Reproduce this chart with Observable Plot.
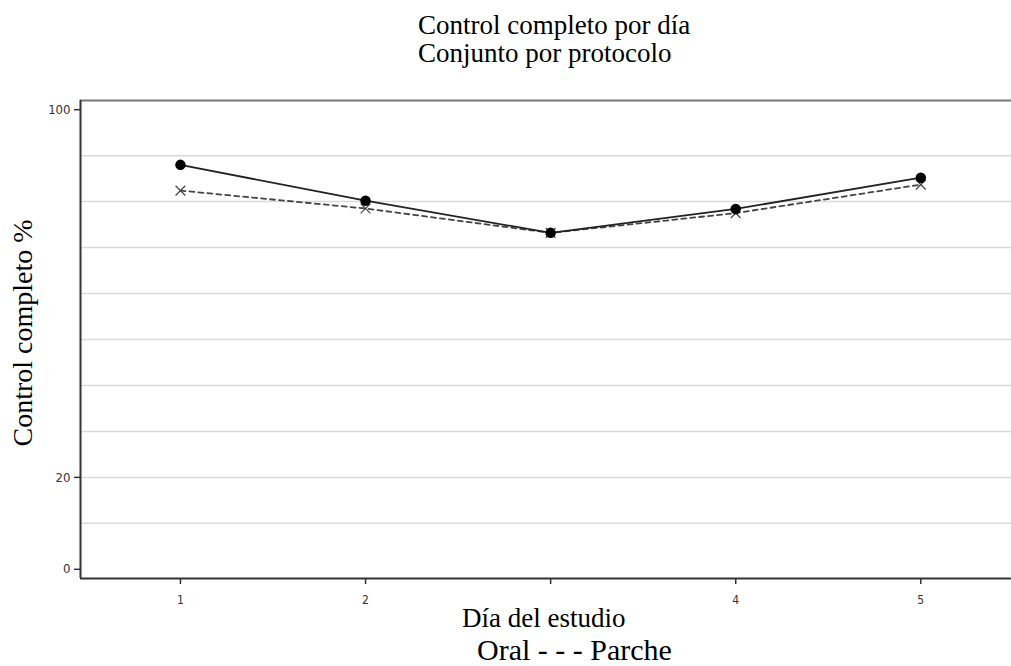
<!DOCTYPE html>
<html>
<head>
<meta charset="utf-8">
<script src="https://cdn.jsdelivr.net/npm/d3@7"></script>
<script src="https://cdn.jsdelivr.net/npm/@observablehq/plot@0.6"></script>
<style>
  html, body { margin: 0; padding: 0; background: #fff; }
  #wrap { position: relative; width: 1011px; height: 666px; overflow: hidden; font-family: "Liberation Serif", "Times New Roman", serif; color: #000; }
  .t { position: absolute; white-space: nowrap; line-height: 1; }
  #chart { position: absolute; left: 0; top: 90px; }
</style>
</head>
<body>
<div id="wrap">
  <div id="chart"></div>
  <div class="t" id="title1" style="left:418px;top:12px;font-size:27px;">Control completo por día</div>
  <div class="t" id="title2" style="left:418px;top:40px;font-size:27px;">Conjunto por protocolo</div>
  <div class="t" id="ylab" style="left:23px;top:333px;font-size:28px;transform:translate(-50%,-50%) rotate(-90deg);">Control completo %</div>
  <div class="t" id="xlab" style="left:462px;top:605px;font-size:27px;">Día del estudio</div>
  <div class="t" id="legend" style="left:477px;top:637px;font-size:30px;line-height:0.88;">Oral - - - Parche</div>
</div>
<script>
const days = [1, 2, 3, 4, 5];
const oral = [88.0, 80.2, 73.2, 78.4, 85.2];
const parche = [82.4, 78.5, 73.2, 77.5, 83.7];
const gridValues = [10, 20, 30, 40, 50, 60, 70, 80, 90];
const yTickValues = [0, 20, 100];
const xTickLabels = ["1", "2", "", "4", "5"];

const oralData = days.map((d, i) => ({day: d, value: oral[i]}));
const parcheData = days.map((d, i) => ({day: d, value: parche[i]}));

const xDomain = [0.46, 5.49];
const yDomain = [-2, 102];

const chart = Plot.plot({
  width: 1011,
  height: 576,
  marginLeft: 80,
  marginRight: 0,
  marginTop: 10,
  marginBottom: 88,
  style: {background: "transparent", fontFamily: "'Liberation Sans Narrow', 'DejaVu Sans Condensed', sans-serif", fontSize: "12px", color: "#333"},
  x: {domain: xDomain, axis: null},
  y: {domain: yDomain, axis: null},
  marks: [
    Plot.ruleY(gridValues, {stroke: "#d9d9d9", strokeWidth: 1.5}),
    Plot.ruleY([yDomain[1]], {stroke: "#777", strokeWidth: 2}),
    Plot.ruleY([yDomain[0]], {stroke: "#333", strokeWidth: 2}),
    Plot.ruleX([xDomain[0]], {stroke: "#333", strokeWidth: 2}),
    Plot.axisY({ticks: yTickValues, tickSize: 6, tickPadding: 4, fontSize: 13, label: null, stroke: "#333", strokeWidth: 1.5, fill: "#333"}),
    Plot.axisX({ticks: days, tickFormat: (d) => xTickLabels[days.indexOf(d)], tickSize: 6, tickPadding: 11, label: null, stroke: "#333", strokeWidth: 1.5, fill: "#333"}),
    Plot.line(parcheData, {x: "day", y: "value", stroke: "#444", strokeWidth: 1.8, strokeDasharray: "5,4"}),
    Plot.line(oralData, {x: "day", y: "value", stroke: "#222", strokeWidth: 1.8}),
    Plot.dot(parcheData, {x: "day", y: "value", symbol: "times", r: 4.5, stroke: "#444", strokeWidth: 1.2}),
    Plot.dot(oralData, {x: "day", y: "value", r: 4.5, fill: "#000", stroke: "#000"})
  ]
});
document.getElementById("chart").appendChild(chart);
</script>
</body>
</html>
